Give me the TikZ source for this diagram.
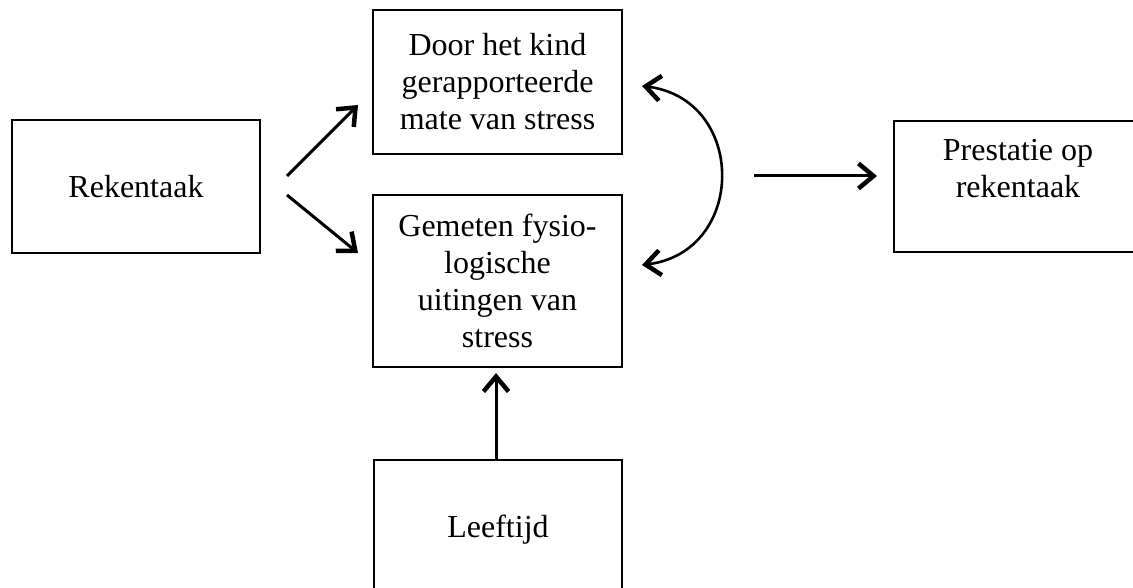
\documentclass[tikz,border=0pt]{standalone}
\usepackage{fontspec}
\setmainfont{Liberation Serif}
\usetikzlibrary{arrows.meta}
\tikzset{
  box/.style={draw, line width=1.2pt, rectangle, inner sep=0pt, align=center,
    font=\fontsize{32}{37}\selectfont},
  tipbarb/.tip={Straight Barb[length=15pt,width=25pt,line width=4.5pt]},
  arr/.style={line width=3pt, -tipbarb},
  dblarr/.style={line width=2.6pt, tipbarb-tipbarb}
}
\begin{document}
\begin{tikzpicture}[x=1pt,y=-1pt]
\useasboundingbox (0,0) rectangle (1133,588);
\node[box, minimum width=248pt, minimum height=133pt] (rek) at (136,186.5) {Rekentaak};
\node[box, minimum width=249pt, minimum height=144pt] (door) at (497.5,82) {Door het kind\\gerapporteerde\\mate van stress};
\node[box, minimum width=249pt, minimum height=172pt] (gem) at (497.5,281) {Gemeten fysio-\\logische\\uitingen van\\stress};
\node[box, minimum width=248pt, minimum height=140pt] (leef) at (498,530) {Leeftijd};
\node[box, minimum width=248pt, minimum height=131pt] (pres) at (1018,186.5) {Prestatie op\\rekentaak\\\mbox{}};
\coordinate (a1s) at (287,176);
\coordinate (a1e) at (358,105);
\coordinate (a2s) at (287,195);
\coordinate (a2e) at (358,253);
\coordinate (c1) at (642,86);
\coordinate (c2) at (642,265);
\coordinate (hs) at (754,176);
\coordinate (he) at (877,176);
\coordinate (vs) at (496,460);
\coordinate (ve) at (496,373);
\draw[arr] (a1s) -- (a1e);
\draw[arr] (a2s) -- (a2e);
\draw[dblarr] (c1) .. controls (747,99) and (747,252) .. (c2);
\draw[arr] (hs) -- (he);
\draw[arr] (vs) -- (ve);
\end{tikzpicture}
\end{document}
